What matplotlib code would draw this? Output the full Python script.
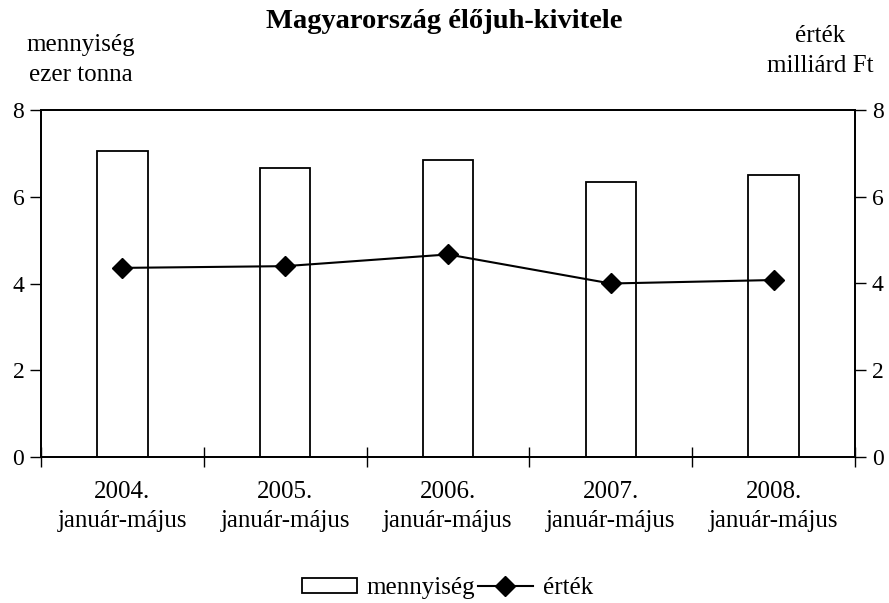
import numpy as np
import matplotlib
matplotlib.use('Agg')
import matplotlib.pyplot as plt
from matplotlib.lines import Line2D
from matplotlib.patches import Patch

# Data
categories = ['2004.\njanuár-május', '2005.\njanuár-május', '2006.\njanuár-május',
              '2007.\njanuár-május', '2008.\njanuár-május']
mennyiseg = [7.05, 6.67, 6.84, 6.34, 6.50]   # ezer tonna
ertek = [4.36, 4.40, 4.67, 4.00, 4.08]       # milliárd Ft
yticks = [0, 2, 4, 6, 8]

plt.rcParams['font.family'] = ['Liberation Serif', 'DejaVu Serif']

fig = plt.figure(figsize=(8.89, 6.03), dpi=100)
ax = fig.add_axes([41 / 889, 1 - 457 / 603, 814 / 889, 347 / 603])
ax2 = ax.twinx()

x = np.arange(len(categories))
ax.bar(x, mennyiseg, width=0.31, facecolor='white', edgecolor='black', linewidth=1.3, zorder=2)
ax2.plot(x, ertek, color='black', linewidth=1.5, marker='D', markersize=10,
         markerfacecolor='black', zorder=3)

for a in (ax, ax2):
    a.set_ylim(0, 8)
    a.set_yticks(yticks)
    a.tick_params(axis='y', direction='out', length=8, width=1, labelsize=17, pad=4)
    for s in a.spines.values():
        s.set_linewidth(1.3)
ax.set_xlim(-0.5, 4.5)
ax.set_xticks(np.arange(-0.5, 5, 1))
ax.set_xticklabels([])
ax.tick_params(axis='x', direction='inout', length=14, width=1)
ax.set_xticks(x, minor=True)
ax.set_xticklabels(categories, minor=True, fontsize=18, linespacing=1.45)
ax.tick_params(axis='x', which='minor', length=0, pad=17)

fig.text(0.5, 1 - 22 / 603, 'Magyarország élőjuh-kivitele', ha='center', va='center',
         fontsize=20.5, fontweight='bold')
fig.text(81 / 889, 1 - 60 / 603, 'mennyiség\nezer tonna', ha='center', va='center',
         fontsize=18, linespacing=1.5)
fig.text(820 / 889, 1 - 51 / 603, 'érték\nmilliárd Ft', ha='center', va='center',
         fontsize=18, linespacing=1.5)

handles = [Patch(facecolor='white', edgecolor='black', linewidth=1.3),
           Line2D([], [], color='black', marker='D', markersize=10, linewidth=1.5)]
fig.legend(handles, ['mennyiség', 'érték'], loc='center', bbox_to_anchor=(0.503, 1 - 588 / 603),
           ncol=2, frameon=False, fontsize=18, handlelength=2.2, handleheight=0.55,
           handletextpad=0.4, columnspacing=0.1)

fig.savefig('out.png', dpi=100)
